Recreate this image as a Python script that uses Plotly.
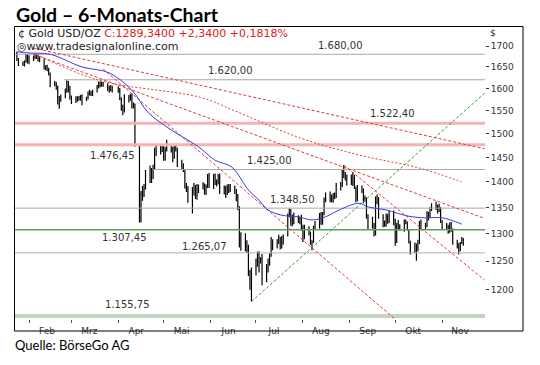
import plotly.graph_objects as go
import pandas as pd
import numpy as np

# ---------------- data ----------------
trade_dates = pd.bdate_range("2013-01-24", "2013-11-15")
trade_dates = trade_dates[trade_dates != pd.Timestamp("2013-03-29")]

opens = [1685,1669,1657,1655,1662,1677,
 1663,1667,1673,1675,1677,1671,1667,1649,1649,1644,1635,1609,1611,1604,1578,1576,1581,1594,1615,1596,
 1578,1576,1573,1574,1575,1579,1577,1577,1590,1587,1588,1592,1604,1613,1609,1613,1607,1604,1595,1604,
 1597,1599,1575,1554,1557,1580,1575,1585,1558,1563,1476,1348,1369,1376,1392,1404,1423,1409,1430,1462,1462,1468,
 1472,1446,1467,1470,1469,1450,1473,1469,1436,1433,1424,1391,1386,1360,1383,1378,1370,1392,1386,1394,1379,1390,1411,
 1391,1411,1399,1398,1413,1383,1385,1378,1391,1387,1388,1384,1367,1350,1277,1298,1284,1275,1232,1210,
 1234,1247,1243,1251,1252,1223,1234,1246,1261,1283,1277,1284,1291,1277,1285,1296,1335,1345,1320,1333,1322,1329,1326,
 1313,1310,1310,1303,1282,1285,1311,1312,1334,1320,1337,1366,1375,1365,1372,1370,1376,1396,1395,1419,1418,1411,
 1396,1410,1413,1390,1367,1391,1386,1363,1367,1331,1326,1317,1309,1368,1368,1332,1323,1316,1337,1324,1337,
 1327,1286,1317,1316,1309,1325,1321,1307,1286,1272,1276,1272,1282,1322,1315,1315,1339,1333,1345,1352,1353,1345,1348,
 1323,1315,1314,1308,1318,1308,1286,1281,1272,1283,1287]
highs = [1686,1671,1663,1665,1681,1680,
 1678,1677,1679,1681,1681,1674,1669,1654,1655,1648,1637,1617,1615,1607,1583,1586,1600,1619,1617,1606,
 1584,1582,1582,1583,1585,1587,1581,1593,1597,1594,1597,1608,1616,1616,1616,1615,1612,1606,1608,1606,
 1605,1601,1580,1563,1587,1585,1588,1588,1568,1566,1478,1382,1392,1396,1424,1433,1428,1435,1470,1476,1478,1477,
 1476,1471,1487,1478,1472,1476,1479,1470,1445,1438,1426,1398,1392,1390,1398,1394,1396,1395,1400,1397,1395,1416,1418,
 1416,1417,1405,1416,1417,1393,1392,1395,1396,1396,1393,1386,1376,1352,1303,1301,1288,1280,1235,1239,
 1255,1267,1268,1257,1263,1245,1255,1264,1294,1290,1290,1298,1294,1296,1299,1338,1348,1347,1336,1340,1335,1332,1336,
 1317,1317,1314,1304,1288,1315,1324,1339,1341,1341,1369,1379,1381,1375,1378,1379,1398,1400,1426,1434,1420,1415,
 1415,1420,1414,1391,1394,1393,1387,1373,1369,1337,1332,1320,1371,1375,1370,1337,1325,1338,1337,1343,1344,
 1328,1320,1326,1318,1327,1327,1323,1308,1287,1284,1282,1289,1324,1327,1320,1343,1341,1350,1358,1361,1355,1357,1350,
 1326,1320,1317,1321,1322,1310,1289,1283,1285,1294,1292]
lows = [1664,1652,1652,1651,1660,1658,
 1656,1664,1668,1669,1663,1661,1644,1642,1640,1630,1603,1605,1597,1564,1554,1570,1578,1590,1591,1575,
 1565,1567,1570,1572,1572,1562,1571,1575,1584,1583,1583,1591,1600,1603,1604,1604,1594,1590,1593,1591,
 1590,1573,1550,1540,1546,1568,1572,1555,1555,1472,1321,1321,1363,1370,1385,1398,1398,1406,1426,1453,1456,1461,
 1443,1443,1462,1460,1440,1447,1462,1430,1426,1420,1387,1380,1359,1338,1373,1366,1365,1378,1385,1375,1374,1388,1388,
 1386,1394,1391,1395,1376,1375,1368,1374,1378,1380,1376,1362,1345,1275,1269,1268,1265,1224,1200,1180,
 1225,1240,1230,1246,1208,1213,1230,1242,1258,1270,1273,1281,1271,1273,1280,1295,1331,1315,1314,1318,1320,1318,1306,
 1285,1290,1297,1280,1270,1283,1308,1310,1317,1317,1335,1360,1360,1360,1359,1366,1368,1383,1390,1408,1403,1393,
 1394,1392,1386,1360,1362,1378,1358,1361,1328,1308,1310,1295,1297,1356,1328,1312,1313,1313,1319,1320,1316,
 1278,1283,1307,1306,1304,1318,1306,1282,1262,1265,1251,1268,1281,1309,1307,1312,1325,1330,1343,1345,1338,1341,1320,
 1309,1308,1300,1302,1304,1280,1273,1262,1268,1281,1278]
closes = [1669,1657,1655,1662,1677,1663,
 1667,1673,1675,1677,1671,1667,1649,1649,1644,1635,1609,1611,1604,1578,1576,1581,1594,1615,1596,1578,
 1576,1573,1574,1575,1579,1577,1577,1590,1587,1588,1592,1604,1613,1609,1613,1607,1604,1595,1604,1597,
 1599,1575,1554,1557,1580,1575,1585,1558,1563,1476,1348,1369,1376,1392,1404,1423,1409,1430,1462,1462,1468,1472,
 1446,1467,1470,1469,1450,1473,1469,1436,1433,1424,1391,1386,1360,1383,1378,1370,1392,1386,1394,1379,1390,1411,1391,
 1411,1399,1398,1413,1383,1385,1378,1391,1387,1388,1384,1367,1350,1277,1298,1284,1275,1232,1210,1234,
 1247,1243,1251,1252,1223,1234,1246,1261,1283,1277,1284,1291,1277,1285,1296,1335,1345,1320,1333,1322,1329,1326,1313,
 1310,1310,1303,1282,1285,1311,1312,1334,1320,1337,1366,1375,1365,1372,1370,1376,1396,1395,1419,1418,1411,1396,
 1410,1413,1390,1367,1391,1386,1363,1367,1331,1326,1317,1309,1368,1368,1332,1323,1316,1337,1324,1337,1327,
 1286,1317,1316,1309,1325,1321,1307,1286,1272,1276,1272,1282,1322,1315,1315,1339,1333,1345,1352,1353,1345,1348,1323,
 1315,1314,1308,1318,1308,1286,1281,1272,1283,1287,1289.34]
assert len(opens) == len(highs) == len(lows) == len(closes) == len(trade_dates)

# moving averages
ma_blue_dates = ["2013-01-24","2013-02-01","2013-02-15","2013-03-08","2013-03-26","2013-04-10","2013-04-21","2013-05-06",
                 "2013-05-24","2013-06-04","2013-06-15","2013-06-26","2013-07-03","2013-07-09","2013-07-18",
                 "2013-07-29","2013-08-07","2013-08-16","2013-08-25","2013-09-07","2013-09-13","2013-09-25",
                 "2013-10-10","2013-10-21","2013-11-01","2013-11-14"]
ma_blue_vals = [1686,1683,1680,1650,1636,1596,1545,1508,1472,1444,1430,1384,1364,1345,1335,1332,1326,1332,1345,
                1358,1351,1345,1333,1330,1330,1318]
ma_red_dates = ["2013-02-04","2013-03-19","2013-05-25","2013-06-16","2013-07-30","2013-09-07","2013-10-17","2013-11-14"]
ma_red_vals = [1683,1619,1580,1551,1491,1455,1428,1400]

# trend lines (start date, start price, end date, end price)
red_trend = [
    ("2013-02-04", 1695, "2013-11-29", 1468),
    ("2013-02-04", 1680, "2013-11-29", 1329),
    ("2013-03-22", 1645, "2013-10-06", 1140),
    ("2013-08-28", 1434, "2013-11-29", 1217),
]
green_trend = [("2013-06-28", 1180, "2013-11-29", 1589)]

# horizontal levels
levels = [1680.00, 1620.00, 1522.40, 1476.45, 1425.00, 1348.50, 1307.45, 1265.07, 1155.75]
level_start = ["2013-01-22", "2013-02-24", "2013-01-22", "2013-01-22", "2013-04-24",
               "2013-01-22", "2013-01-22", "2013-01-22", "2013-01-22"]
month_ticks = ["2013-02-01","2013-03-01","2013-04-01","2013-05-01","2013-06-01",
               "2013-07-01","2013-08-01","2013-09-01","2013-10-01","2013-11-01"]
month_names = ["Feb","Mrz","Apr","Mai","Jun","Jul","Aug","Sep","Okt","Nov"]
y_ticks = [1200,1250,1300,1350,1400,1450,1500,1550,1600,1650,1700]

# ---------------- layout constants ----------------
X0, X1 = "2013-01-22 18:00", "2013-11-29 08:00"
Y_TOP, Y_BOT = 1749.3, 1151.0
level_style = {
    1680.00: ("#a9a9a9", 1), 1620.00: ("#a9a9a9", 1), 1522.40: ("#f1b3b3", 3),
    1476.45: ("#f1b3b3", 3), 1425.00: ("#a9a9a9", 1), 1348.50: ("#a9a9a9", 1),
    1307.45: ("#5e9e5e", 1.5), 1265.07: ("#b0b0b0", 1), 1155.75: ("#c4d4c4", 4),
}
label_pos = {  # label anchor date, vertical offset in px
    1680.00: ("2013-08-26", 9), 1620.00: ("2013-06-14", 9), 1522.40: ("2013-09-29", 10),
    1476.45: ("2013-03-28", -11), 1425.00: ("2013-07-10", 9), 1348.50: ("2013-07-25", 9),
    1307.45: ("2013-04-05", -8), 1265.07: ("2013-05-28", 6), 1155.75: ("2013-04-07", 12),
}
FONT = "DejaVu Sans"
TFONT = "Lato, Roboto, sans-serif"

fig = go.Figure()

for lv, st in zip(levels, level_start):
    col, w = level_style[lv]
    fig.add_trace(go.Scatter(x=[st, X1], y=[lv, lv], mode="lines",
                             line=dict(color=col, width=w), hoverinfo="skip", showlegend=False))

for (d0, p0, d1, p1) in red_trend:
    fig.add_trace(go.Scatter(x=[d0, d1], y=[p0, p1], mode="lines",
                             line=dict(color="#e23a3a", width=1, dash="3px,2px"),
                             hoverinfo="skip", showlegend=False))
for (d0, p0, d1, p1) in green_trend:
    fig.add_trace(go.Scatter(x=[d0, d1], y=[p0, p1], mode="lines",
                             line=dict(color="#3a9a3a", width=1, dash="3px,2px"),
                             hoverinfo="skip", showlegend=False))

fig.add_trace(go.Scatter(x=ma_red_dates, y=ma_red_vals, mode="lines", line_shape="spline",
                         line=dict(color="#e23a3a", width=1, dash="2px,2px"),
                         hoverinfo="skip", showlegend=False))
fig.add_trace(go.Scatter(x=ma_blue_dates, y=ma_blue_vals, mode="lines", line_shape="spline",
                         line=dict(color="#3a3ae0", width=1),
                         hoverinfo="skip", showlegend=False))

fig.add_trace(go.Ohlc(x=trade_dates, open=opens, high=highs, low=lows, close=closes,
                      increasing=dict(line=dict(color="black", width=1.2)),
                      decreasing=dict(line=dict(color="black", width=1.2)),
                      tickwidth=0.3, hoverinfo="skip", showlegend=False))

def de(v):
    s = f"{v:,.2f}"
    return s.replace(",", "X").replace(".", ",").replace("X", ".")

annotations = []
for lv in levels:
    d, off = label_pos[lv]
    annotations.append(dict(x=d, y=np.log10(lv), xref="x", yref="y", text=de(lv), showarrow=False,
                            yshift=off, font=dict(family=FONT, size=10, color="#333333")))

def px(xp):
    return (xp - 15) / 470.0

def py(yp):
    return (319 - yp) / 293.0

last, prev = closes[-1], closes[-2]
chg = last - prev
pct = chg / prev * 100
hdr_red = f"C:{last:.4f} {chg:+.4f} {pct:+.4f}%".replace(".", ",")
annotations += [
    dict(x=px(14), y=py(14), xref="paper", yref="paper", xanchor="left", yanchor="middle",
         text="<b>Gold – 6-Monats-Chart</b>", showarrow=False,
         font=dict(family=TFONT, size=19.5, color="black")),
    dict(x=px(13), y=py(345), xref="paper", yref="paper", xanchor="left", yanchor="middle",
         text="Quelle: BörseGo AG", showarrow=False,
         font=dict(family=TFONT, size=13, color="black")),
    dict(x=px(16), y=py(33), xref="paper", yref="paper", xanchor="left", yanchor="middle",
         text="¢ Gold USD/OZ <span style='color:#e02020'>" + hdr_red + "</span>", showarrow=False,
         font=dict(family=FONT, size=11, color="#222222")),
    dict(x=px(15), y=py(46), xref="paper", yref="paper", xanchor="left", yanchor="middle",
         text="◎www.tradesignalonline.com", showarrow=False,
         font=dict(family=FONT, size=11, color="#222222")),
    dict(x=px(488), y=py(33), xref="paper", yref="paper", xanchor="left", yanchor="middle",
         text="$", showarrow=False, font=dict(family=FONT, size=9, color="#222222")),
]

shapes = [dict(type="rect", xref="paper", yref="paper", x0=px(14.5), x1=px(523), y0=py(331), y1=py(26.5),
               line=dict(color="black", width=1), fillcolor="rgba(0,0,0,0)", layer="above")]

fig.update_layout(
    width=540, height=365, margin=dict(l=15, r=55, t=26, b=46),
    paper_bgcolor="white", plot_bgcolor="white", showlegend=False,
    annotations=annotations, shapes=shapes,
    xaxis=dict(type="date", range=[X0, X1], showgrid=False, zeroline=False,
               rangeslider=dict(visible=False),
               tickmode="array", tickvals=month_ticks, ticktext=month_names,
               ticks="outside", ticklen=3, tickcolor="#555555", ticklabelshift=18,
               tickfont=dict(family=FONT, size=9, color="#333333"), showline=False),
    yaxis=dict(type="log", side="right", range=[np.log10(Y_BOT), np.log10(Y_TOP)],
               showgrid=False, zeroline=False, tickmode="array", tickvals=y_ticks,
               ticktext=[str(t) for t in y_ticks], ticks="outside", ticklen=3, tickcolor="#333333",
               tickfont=dict(family=FONT, size=9, color="#333333"), showline=False),
)

fig.write_html("out.html", config={"displayModeBar": False},
               post_script="document.body.style.margin='0px';document.body.style.overflow='hidden';")
